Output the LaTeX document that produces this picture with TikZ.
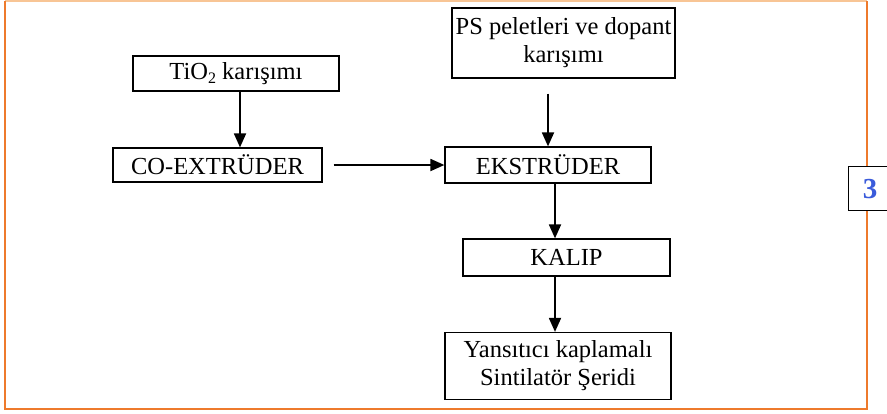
\documentclass[tikz,border=0pt]{standalone}
\usepackage{fontspec}
\setmainfont{Liberation Serif}
\usetikzlibrary{arrows.meta}
\definecolor{frameor}{HTML}{EE7A2C}
\definecolor{frameorlight}{HTML}{F8C595}
\definecolor{numblue}{HTML}{3A5BDB}
\tikzset{
  stepbox/.style={draw=black, line width=1.2pt, fill=white, inner sep=0pt, align=center,
    font=\fontsize{24.5}{28}\selectfont},
  arr/.style={line width=1.8pt, -{Triangle[length=14pt,width=12pt]}},
}
\newcommand{\subtwo}{\raisebox{-4pt}{\fontsize{16}{16}\selectfont 2}}
\begin{document}
\begin{tikzpicture}[x=1pt,y=-1pt]
\useasboundingbox (0,0) rectangle (887,413);
% frame
\draw[frameorlight, line width=1.6pt] (5,1) -- (867,1);
\draw[frameor, line width=1.6pt] (5,1) -- (5,409) -- (867,409) -- (867,1);
% number box
\begin{scope}
\clip (0,0) rectangle (887,413);
\node[draw=black, line width=1.2pt, fill=white, minimum width=42pt, minimum height=44pt, inner sep=0pt,
  anchor=north west] (num) at (848,166) {};
\node[text=numblue, font=\fontsize{29}{29}\selectfont\bfseries, inner sep=0pt] (numtxt) at (870,189) {3};
\end{scope}
% boxes
\node[stepbox, minimum width=206pt, minimum height=35pt] (tio) at (236,73.5) {TiO\subtwo{} karışımı};
\node[stepbox, minimum width=209pt, minimum height=34pt] (coex) at (217.5,165) {CO-EXTRÜDER};
\node[stepbox, minimum width=223pt, minimum height=70pt] (ps) at (563.5,43) {PS peletleri ve dopant\\karışımı};
\node[stepbox, minimum width=206pt, minimum height=36pt] (eks) at (548,165) {EKSTRÜDER};
\node[stepbox, minimum width=207pt, minimum height=37pt] (kalip) at (566.5,257.5) {KALIP};
\node[stepbox, minimum width=226pt, minimum height=67pt] (yans) at (558,366) {Yansıtıcı kaplamalı\\Sintilatör Şeridi};
% connectors
\draw[arr] ([xshift=4pt]tio.south) -- ([xshift=4pt]tio.south |- coex.north);
\draw[arr, shorten <=11pt] (coex.east) -- (coex.east -| eks.west);
\draw[arr] ([yshift=-15pt]ps.south -| eks.north) -- (eks.north);
\draw[arr] ([xshift=7pt]eks.south) -- ([xshift=7pt]eks.south |- kalip.north);
\draw[arr] ([xshift=7pt]eks.south |- kalip.south) -- ([xshift=7pt]eks.south |- yans.north);
\end{tikzpicture}
\end{document}
